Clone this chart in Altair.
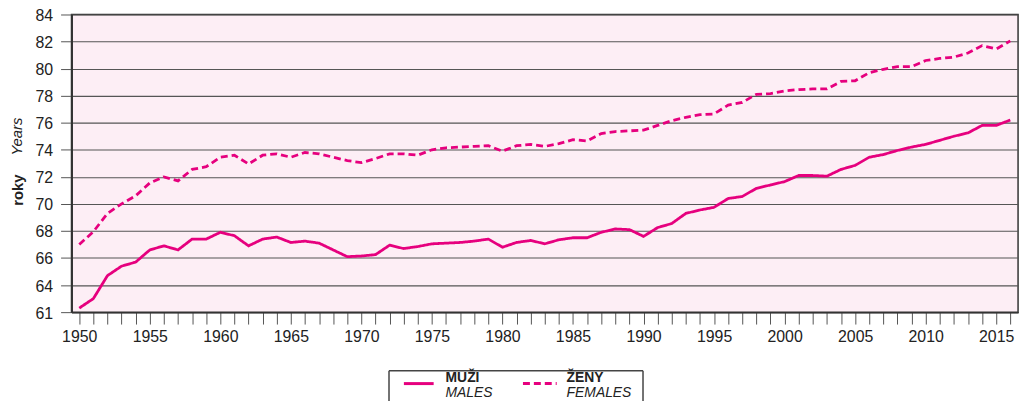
import altair as alt
import pandas as pd

years = list(range(1950, 2017))

males = [62.3, 63.0, 64.7, 65.4, 65.7, 66.6, 66.9, 66.6, 67.4, 67.4,
         67.9, 67.65, 66.9, 67.4, 67.55, 67.15, 67.25, 67.1, 66.6, 66.1,
         66.15, 66.25, 66.95, 66.7, 66.85, 67.05, 67.1, 67.15, 67.25, 67.4,
         66.8, 67.15, 67.3, 67.05, 67.35, 67.5, 67.5, 67.9, 68.15, 68.1,
         67.6, 68.25, 68.55, 69.3, 69.55, 69.75, 70.4, 70.55, 71.15, 71.4,
         71.65, 72.1, 72.1, 72.05, 72.55, 72.85, 73.45, 73.65, 73.95, 74.2,
         74.4, 74.7, 75.0, 75.25, 75.8, 75.8, 76.2]

females = [67.0, 67.95, 69.3, 70.0, 70.6, 71.55, 72.0, 71.7, 72.55, 72.75,
           73.45, 73.6, 72.95, 73.6, 73.7, 73.45, 73.8, 73.7, 73.45, 73.2,
           73.05, 73.35, 73.7, 73.7, 73.6, 74.0, 74.15, 74.2, 74.25, 74.3,
           73.9, 74.3, 74.4, 74.25, 74.45, 74.75, 74.65, 75.2, 75.35, 75.4,
           75.45, 75.8, 76.15, 76.4, 76.6, 76.65, 77.3, 77.5, 78.1, 78.15,
           78.35, 78.45, 78.5, 78.5, 79.05, 79.1, 79.7, 79.95, 80.15, 80.15,
           80.6, 80.75, 80.85, 81.15, 81.7, 81.45, 82.05]

series_names = ["MUŽI", "ŽENY"]

df = pd.DataFrame({
    "year": years * 2,
    "value": males + females,
    "series": [series_names[0]] * len(years) + [series_names[1]] * len(years),
})

MAG = "#e6007e"
FONT = "Liberation Sans"

y_ticks = list(range(62, 85, 2))

lines = alt.Chart(df).mark_line(strokeWidth=2.8, color=MAG, clip=True).encode(
    x=alt.X("year:Q",
            scale=alt.Scale(domain=[1949.45, 2016.55], nice=False, zero=False),
            axis=alt.Axis(values=years, title=None, grid=False,
                          labelExpr="datum.value % 5 == 0 ? datum.label : ''",
                          format="d", labelOverlap=False, labelFlush=False,
                          tickSize=12, tickColor="#555", tickWidth=1,
                          labelPadding=5, labelFontSize=16, labelFont=FONT,
                          labelColor="#222", domain=True, domainColor="#333",
                          domainWidth=1.5)),
    y=alt.Y("value:Q",
            scale=alt.Scale(domain=[62, 84], nice=False, zero=False),
            axis=alt.Axis(values=y_ticks, title=None, grid=True,
                          gridColor="#555", gridWidth=1.1,
                          labelExpr="datum.value == 62 ? '61' : datum.label",
                          tickSize=11, tickColor="#555", tickWidth=1,
                          labelPadding=8, labelFontSize=16, labelFont=FONT,
                          labelOffset=1,
                          labelColor="#222", domain=True, domainColor="#333",
                          domainWidth=2)),
    strokeDash=alt.StrokeDash("series:N",
                              scale=alt.Scale(domain=series_names,
                                              range=[[1, 0], [7, 4]]),
                              legend=None),
    detail="series:N",
)

one = pd.DataFrame({"k": [0]})

def txt(text, x, y, size=15, weight="normal", style="normal", angle=0, align="left"):
    return alt.Chart(one).mark_text(
        text=text, font=FONT, fontSize=size, fontWeight=weight, fontStyle=style,
        angle=angle, align=align, baseline="middle", color="#222"
    ).encode(x=alt.value(x), y=alt.value(y))

y_title_1 = txt("roky", -54, 177, size=15, weight="bold", angle=270, align="center")
y_title_2 = txt("Years", -55, 123, size=15, style="italic", angle=270, align="center")

# legend box
box_left = alt.Chart(one).mark_rule(color="#444", strokeWidth=1.5).encode(
    x=alt.value(320), y=alt.value(359), y2=alt.value(400))
box_right = alt.Chart(one).mark_rule(color="#444", strokeWidth=1.5).encode(
    x=alt.value(576), y=alt.value(359), y2=alt.value(400))
box_top = alt.Chart(one).mark_rule(color="#444", strokeWidth=1.5).encode(
    x=alt.value(320), x2=alt.value(576), y=alt.value(359))
leg_solid = alt.Chart(one).mark_rule(color=MAG, strokeWidth=3).encode(
    x=alt.value(335), x2=alt.value(365), y=alt.value(372))
leg_dash = alt.Chart(one).mark_rule(color=MAG, strokeWidth=3, strokeDash=[7, 4]).encode(
    x=alt.value(455), x2=alt.value(489), y=alt.value(372))
leg_t1 = txt("MUŽI", 377, 366, size=14, weight="bold")
leg_t2 = txt("MALES", 377, 382, size=14, style="italic")
leg_t3 = txt("ŽENY", 499, 366, size=14, weight="bold")
leg_t4 = txt("FEMALES", 499, 382, size=14, style="italic")

chart = alt.layer(
    lines, y_title_1, y_title_2,
    box_left, box_right, box_top, leg_solid, leg_dash,
    leg_t1, leg_t2, leg_t3, leg_t4,
).properties(
    width=954, height=300,
    autosize=alt.AutoSizeParams(type="none"),
    padding={"left": 64, "top": 5, "right": 8, "bottom": 88},
    background="white",
).configure_view(
    fill="#fdeef5", stroke="#333", strokeWidth=1.5
)

chart.save("out.html", embed_options={"renderer": "svg", "actions": False})
